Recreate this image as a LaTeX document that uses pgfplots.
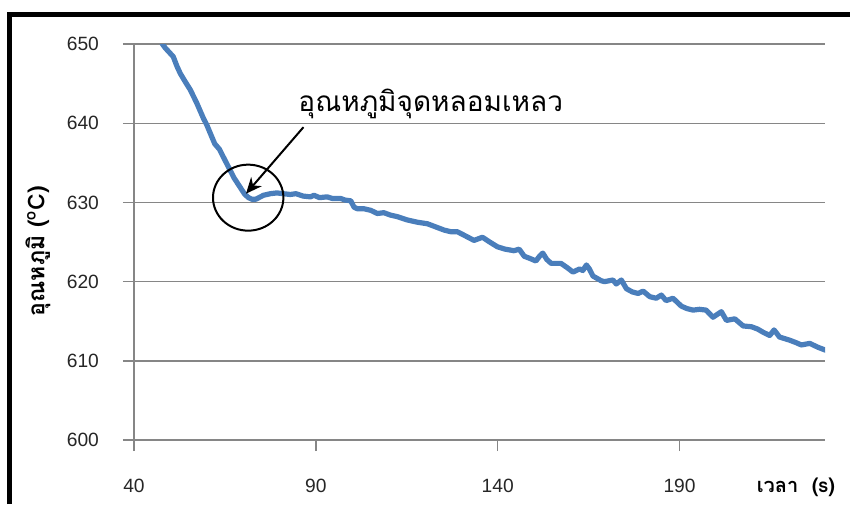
\documentclass[border=0pt]{standalone}
\usepackage{fontspec}
\setmainfont{Liberation Sans}
\newfontfamily\thaifont[Script=Thai]{Loma}
\usepackage{pgfplots}
\pgfplotsset{compat=1.18}
\usetikzlibrary{arrows.meta}
\definecolor{lineblue}{RGB}{74,126,187}
\definecolor{gridgray}{RGB}{134,134,134}
\begin{document}
\begin{tikzpicture}[x=0.5pt,y=0.5pt]
\useasboundingbox (0,0) rectangle (850,504);
\begin{axis}[
  at={(67pt,32pt)}, anchor=south west,
  scale only axis, width=345.5pt, height=198pt,
  xmin=40, xmax=230, ymin=600, ymax=650,
  xtick={40,90,140,190}, ytick={600,610,...,650},
  ymajorgrids, major grid style={gridgray, line width=0.7pt},
  axis x line=bottom, axis y line=left,
  axis line style={-, gridgray, line width=0.7pt},
  tick style={gridgray, line width=0.7pt}, tick align=outside, major tick length=5.5pt,
  tick label style={font=\fontsize{9.6}{11}\selectfont, text=black!85},
  /pgf/number format/assume math mode=true,
  xticklabel style={yshift=-10.5pt},
  yticklabel style={xshift=-8.5pt},
  xlabel={\thaifont\bfseries เวลา\ \ (s)},
  xlabel style={at={(axis description cs:0.958,-0.119)}, anchor=center, font=\fontsize{10}{12}\selectfont},
  ylabel={\thaifont\bfseries อุณหภูมิ (\textsuperscript{o}C)},
  ylabel style={at={(axis description cs:-0.139,0.477)}, anchor=center, rotate=0, font=\fontsize{11.5}{13}\selectfont},
  clip=true,
]
\addplot[lineblue, line width=2.6pt, line join=round, line cap=round] coordinates {
(47.3,650.6) (47.8,650.0) (48.6,649.5) (50.0,648.8) (50.8,648.4) (51.8,647.2)
(52.7,646.3) (54.0,645.3) (55.5,644.2) (57.3,642.5) (59.1,640.6) (60.0,639.8)
(61.0,638.7) (62.2,637.4) (63.5,636.7) (64.6,635.7) (66.5,634.0) (67.5,633.1)
(69.2,631.9) (70.5,631.0) (71.5,630.6) (72.4,630.4) (73.5,630.4) (75.6,630.9)
(77.5,631.1) (79.3,631.2) (81.0,631.1) (83.0,631.0) (84.5,631.1) (86.5,630.8)
(88.5,630.7) (89.5,630.9) (91.0,630.6) (93.1,630.7) (94.5,630.5) (96.8,630.5)
(98.0,630.3) (99.6,630.2) (100.5,629.4) (101.4,629.2) (103.2,629.2) (105.1,629.0)
(106.9,628.6) (108.7,628.7) (110.5,628.4) (112.4,628.2) (115.0,627.8) (117.9,627.5)
(120.7,627.3) (123.0,626.9) (125.3,626.5) (127.1,626.3) (128.9,626.3) (131.0,625.8)
(133.5,625.2) (135.8,625.6) (137.8,625.0) (139.9,624.4) (142.0,624.1) (144.5,623.9)
(145.9,624.1) (147.3,623.2) (149.0,622.9) (150.5,622.6) (151.5,623.2) (152.4,623.6)
(153.5,622.8) (154.7,622.3) (157.4,622.3) (159.0,621.8) (160.7,621.2) (162.5,621.6)
(163.4,621.4) (164.4,622.1) (165.2,621.6) (166.2,620.7) (168.5,620.1) (169.4,620.0)
(171.7,620.2) (172.6,619.7) (174.0,620.2) (175.4,619.1) (177.0,618.7) (178.6,618.5)
(180.0,618.8) (181.8,618.1) (183.6,617.9) (185.0,618.3) (186.3,617.6) (188.2,617.9)
(190.5,616.9) (192.0,616.6) (193.7,616.4) (195.5,616.5) (197.3,616.4) (199.2,615.5)
(201.5,616.2) (202.9,615.1) (205.2,615.3) (207.5,614.4) (209.8,614.3) (211.5,614.0)
(213.0,613.6) (214.8,613.2) (216.0,613.9) (217.5,613.0) (220.3,612.6) (222.0,612.3)
(223.5,612.0) (225.8,612.2) (228.1,611.7) (230.4,611.3)
};
\draw[line width=1pt] (axis cs:71.4,630.6) ellipse [x radius=17.6pt, y radius=16.5pt];
\draw[line width=1pt, -{Stealth[length=8pt,width=7pt]}] (axis cs:86.6,639.5) -- (axis cs:70.8,631.1);
\node[font=\thaifont\fontsize{14}{16}\selectfont, anchor=center] at (axis cs:121.6,642.4) {อุณหภูมิจุดหลอมเหลว};
\end{axis}
\draw[line width=2.5pt, line join=miter] (9.5,0) -- (9.5,489.5) -- (850,489.5);
\end{tikzpicture}
\end{document}
